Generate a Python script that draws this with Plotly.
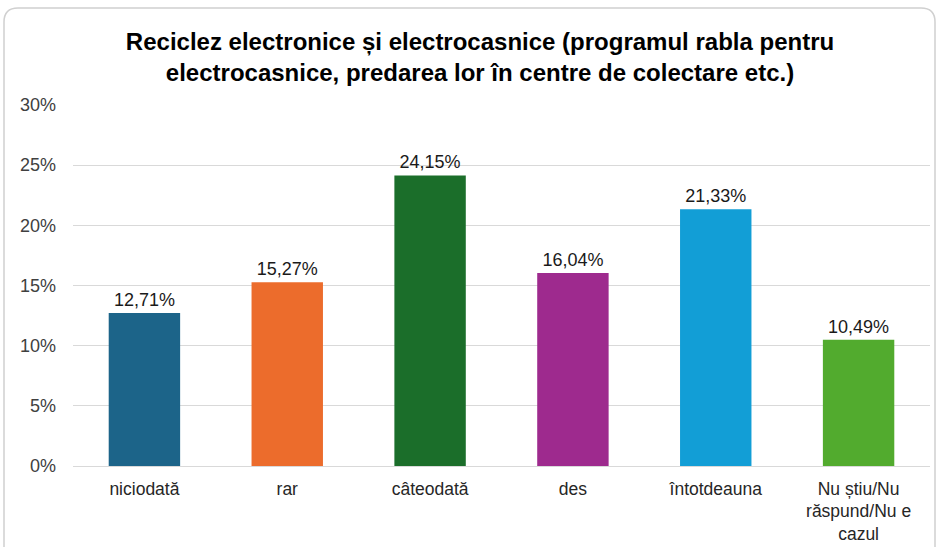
import plotly.graph_objects as go

categories = ["niciodată", "rar", "câteodată", "des", "întotdeauna",
              "Nu știu/Nu<br>răspund/Nu e<br>cazul"]
values = [12.71, 15.27, 24.15, 16.04, 21.33, 10.49]
bar_colors = ["#1c6489", "#ec6c2c", "#1b6e2a", "#9e2a8e", "#129ed6", "#52ab2e"]
y_ticks = [0, 5, 10, 15, 20, 25, 30]

labels = [f"{v:.2f}%".replace(".", ",") for v in values]
y_ticktext = [f"{v}%" for v in y_ticks]

font = "Liberation Sans, Arial, sans-serif"

fig = go.Figure(go.Bar(
    x=categories,
    y=values,
    marker=dict(color=bar_colors, line=dict(width=0)),
    text=labels,
    textposition="outside",
    textfont=dict(size=18, color="#1a1a1a", family=font),
    cliponaxis=False,
))

# rounded chart frame (paper coords, margins included)
W, H = 944, 547
ml, mr, mt, mb = 73, 14, 105, 81
pw, ph = W - ml - mr, H - mt - mb


def px(x):
    return (x - ml) / pw


def py(y):
    return (H - mb - y) / ph


x0, x1, y0, y1, r = 4, 935, 8, 560, 14
frame = (f"M {px(x0 + r)},{py(y0)} L {px(x1 - r)},{py(y0)} "
         f"Q {px(x1)},{py(y0)} {px(x1)},{py(y0 + r)} "
         f"L {px(x1)},{py(y1)} L {px(x0)},{py(y1)} "
         f"L {px(x0)},{py(y0 + r)} Q {px(x0)},{py(y0)} {px(x0 + r)},{py(y0)} Z")

fig.update_layout(
    width=W, height=H,
    margin=dict(l=ml, r=mr, t=mt, b=mb),
    paper_bgcolor="white",
    plot_bgcolor="white",
    bargap=0.5,
    showlegend=False,
    font=dict(family=font, size=18, color="#404040"),
    title=dict(
        text="<b>Reciclez electronice și electrocasnice (programul rabla pentru<br>"
             "electrocasnice, predarea lor în centre de colectare etc.)</b>",
        x=480 / W, xref="container", xanchor="center",
        y=1 - 50 / H, yref="container", yanchor="middle",
        font=dict(size=24, color="#000000", family=font),
    ),
    shapes=[dict(type="path", path=frame, xref="paper", yref="paper",
                 line=dict(color="#d0d0d0", width=1.5), layer="below")],
)

fig.update_yaxes(
    range=[0, 30],
    tickvals=y_ticks,
    ticktext=y_ticktext,
    gridcolor="#d9d9d9",
    gridwidth=1,
    zeroline=True,
    zerolinecolor="#d9d9d9",
    zerolinewidth=1,
    ticks="",
    tickfont=dict(size=18, color="#404040"),
    ticklabelstandoff=16,
    showline=False,
    automargin=False,
)
fig.update_xaxes(
    tickfont=dict(size=17.5, color="#262626"),
    ticks="",
    showline=False,
    ticklabelstandoff=10,
    automargin=False,
)

# page body has a default 8px margin; drop it so the figure sits at 0,0
fig.write_html("out.html", config={"displayModeBar": False},
               post_script="document.body.style.margin='0';")
